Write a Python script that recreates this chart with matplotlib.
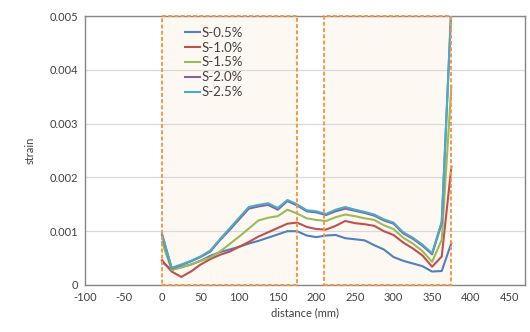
import numpy as np
import matplotlib.pyplot as plt
from matplotlib.patches import Rectangle

plt.rcParams['font.family'] = ['Lato', 'DejaVu Sans']
plt.rcParams['axes.unicode_minus'] = False

# distance along the specimen (mm)
distance = [0, 12.5, 25, 37.5, 50, 62.5, 75, 87.5, 100, 112.5, 125, 137.5, 150, 162.5,
            175, 187.5, 200, 212.5, 225, 237.5, 250, 262.5, 275, 287.5, 300, 312.5,
            325, 337.5, 350, 362.5, 375]

s05 = [0.00043, 0.00028, 0.00033, 0.00038, 0.00045, 0.00054, 0.00061, 0.00066, 0.00071,
       0.00077, 0.00082, 0.00088, 0.00094, 0.00100, 0.00100, 0.00092, 0.00089, 0.00092,
       0.00093, 0.00087, 0.00085, 0.00083, 0.00074, 0.00066, 0.00052, 0.00045, 0.00040,
       0.00035, 0.00025, 0.00026, 0.00078]
s10 = [0.00046, 0.00025, 0.00015, 0.00025, 0.00038, 0.00048, 0.00056, 0.00062, 0.00071,
       0.00080, 0.00090, 0.00098, 0.00106, 0.00114, 0.00116, 0.00108, 0.00104, 0.00103,
       0.00110, 0.00119, 0.00115, 0.00113, 0.00110, 0.00100, 0.00093, 0.00079, 0.00068,
       0.00055, 0.00034, 0.00053, 0.00220]
s15 = [0.00080, 0.00028, 0.00033, 0.00038, 0.00045, 0.00051, 0.00062, 0.00076, 0.00090,
       0.00105, 0.00120, 0.00125, 0.00128, 0.00140, 0.00133, 0.00124, 0.00121, 0.00119,
       0.00126, 0.00131, 0.00128, 0.00124, 0.00121, 0.00111, 0.00104, 0.00088, 0.00077,
       0.00063, 0.00043, 0.00084, 0.00370]
s20 = [0.00093, 0.00031, 0.00037, 0.00044, 0.00052, 0.00062, 0.00083, 0.00102, 0.00122,
       0.00142, 0.00146, 0.00149, 0.00140, 0.00156, 0.00148, 0.00137, 0.00135, 0.00130,
       0.00137, 0.00142, 0.00138, 0.00134, 0.00129, 0.00120, 0.00114, 0.00096, 0.00086,
       0.00073, 0.00057, 0.00115, 0.00520]
s25 = [0.00096, 0.00032, 0.00038, 0.00045, 0.00053, 0.00064, 0.00085, 0.00105, 0.00125,
       0.00145, 0.00149, 0.00152, 0.00143, 0.00158, 0.00150, 0.00139, 0.00137, 0.00132,
       0.00140, 0.00145, 0.00140, 0.00136, 0.00131, 0.00122, 0.00116, 0.00098, 0.00088,
       0.00075, 0.00059, 0.00118, 0.00520]

labels = ['S-0.5%', 'S-1.0%', 'S-1.5%', 'S-2.0%', 'S-2.5%']
colors = ['#4F81BD', '#C0504D', '#9BBB59', '#8064A2', '#4BACC6']
zones = [(0, 175), (210, 375)]

fig = plt.figure(figsize=(5.3, 3.32), dpi=100)
ax = fig.add_axes([0.160, 0.1416, 0.830, 0.810])

# shaded measurement zones
for x0, x1 in zones:
    ax.add_patch(Rectangle((x0, 0), x1 - x0, 0.005, facecolor='#FCE9D9', alpha=0.3,
                           edgecolor='none', zorder=0))
    ax.add_patch(Rectangle((x0, 0), x1 - x0, 0.005, facecolor='none',
                           edgecolor='#F79646', linestyle=(0, (2, 1.2)), linewidth=1.4,
                           zorder=4, clip_on=False))

for ys, lab, c in zip([s05, s10, s15, s20, s25], labels, colors):
    ax.plot(distance, ys, color=c, linewidth=1.5, label=lab, zorder=3)

ax.set_xlim(-100, 470)
ax.set_ylim(0, 0.005)
ax.set_xticks(np.arange(-100, 451, 50))
ax.set_yticks(np.arange(0, 0.0051, 0.001))
ax.set_yticklabels(['0', '0.001', '0.002', '0.003', '0.004', '0.005'])
ax.yaxis.grid(True, color='#D9D9D9', linewidth=0.9, zorder=1)
ax.set_axisbelow(True)
for sp in ax.spines.values():
    sp.set_color('#868686')
    sp.set_linewidth(1.0)
ax.tick_params(axis='both', length=0, labelsize=8, colors='#404040', pad=5)
ax.set_xlabel('distance (mm)', fontsize=8, color='#404040', labelpad=3)
ax.set_ylabel('strain', fontsize=8, color='#404040', labelpad=10)

ax.legend(loc='upper left', bbox_to_anchor=(0.2, 1.005), frameon=False, fontsize=9.5,
          handlelength=1.2, handletextpad=0.1, labelspacing=0.22, labelcolor='#404040')

fig.savefig('out.png', dpi=100)
